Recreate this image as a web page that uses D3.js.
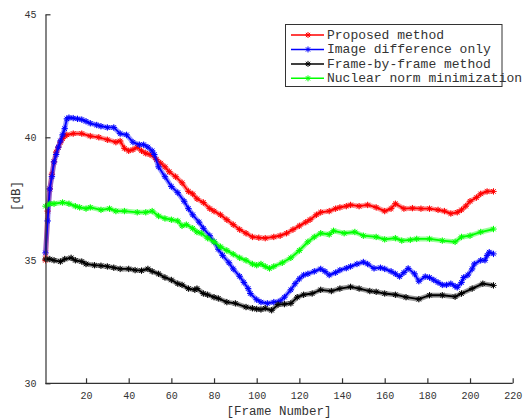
<!DOCTYPE html>
<html><head><meta charset="utf-8">
<script src="https://cdn.jsdelivr.net/npm/d3@7"></script>
<style>
html,body{margin:0;padding:0;background:#fff;}
svg text{font-family:"Courier New","Liberation Mono",monospace;fill:#333;}
</style></head>
<body><svg id="c" width="524" height="418"></svg>
<script>
// ---- data ----
const seriesNames = ["Proposed method","Image difference only","Frame-by-frame method","Nuclear norm minimization"];
const seriesColors = ["#ff0000","#0000ff","#000000","#00ff00"];

const redFrames = [1,2,3,4,5,6,7,8,9,10,11,14,18,22,26,30,34,36,38,40,42,44,46,48,50,53,55,57,59,62,65,68,70,72,75,78,80,83,86,89,92,95,98,101,104,108,111,114,117,120,123,125,128,130,134,137,139,142,144,148,152,156,160,163,165,169,173,177,181,185,188,191,194,196,198,200,203,205,208,211];
const redValues = [35.0,37.0,37.9,38.5,39.0,39.4,39.6,39.8,39.95,40.05,40.1,40.15,40.15,40.05,40.0,39.9,39.8,39.85,39.55,39.45,39.5,39.6,39.45,39.35,39.3,39.1,38.95,38.8,38.6,38.4,38.15,37.8,37.7,37.5,37.35,37.1,37.0,36.85,36.65,36.45,36.25,36.1,35.95,35.92,35.9,35.95,36.0,36.1,36.25,36.4,36.55,36.65,36.85,36.95,37.0,37.1,37.15,37.2,37.25,37.2,37.25,37.15,37.0,37.1,37.3,37.1,37.12,37.1,37.1,37.05,37.0,36.9,36.95,37.05,37.2,37.4,37.55,37.7,37.8,37.8];

const blueFrames = [1,2,3,4,5,6,7,8,9,10,11,12,14,16,18,20,22,25,27,30,33,36,39,42,45,47,49,51,52,54,57,60,63,66,68,70,73,75,78,80,82,84,87,89,92,94,96,97,100,102,105,108,111,113,116,118,120,122,124,127,130,132,134,137,139,142,144,147,150,152,155,158,160,163,165,167,169,171,174,176,179,181,183,185,187,189,191,193,194,196,197,199,201,202,205,207,208,209,211];
const blueValues = [35.3,36.6,37.9,38.4,39.0,39.3,39.6,39.85,40.1,40.35,40.75,40.8,40.78,40.75,40.72,40.65,40.57,40.5,40.45,40.4,40.4,40.15,40.1,39.8,39.7,39.7,39.6,39.45,39.3,38.8,38.4,38.0,37.75,37.4,37.1,36.85,36.55,36.3,36.0,35.75,35.45,35.2,34.9,34.65,34.35,34.1,33.85,33.65,33.4,33.3,33.25,33.3,33.35,33.5,33.8,34.05,34.25,34.4,34.45,34.55,34.65,34.55,34.4,34.5,34.6,34.68,34.75,34.85,34.93,34.85,34.67,34.7,34.65,34.55,34.45,34.34,34.5,34.67,34.45,34.15,34.34,34.3,34.2,34.1,34.0,34.0,34.05,33.95,33.9,34.1,34.3,34.4,34.65,34.85,35.0,35.0,35.2,35.33,35.26];

const blackFrames = [1,3,5,8,10,13,15,18,20,24,27,30,33,36,40,43,46,49,51,54,57,60,63,65,68,71,72,75,77,80,82,86,90,95,98,100,102,104,107,110,113,116,119,122,126,130,135,139,144,148,153,156,160,165,170,176,181,187,193,196,201,206,211];
const blackValues = [35.05,35.05,35.0,34.95,35.05,35.1,35.0,34.95,34.85,34.8,34.78,34.75,34.7,34.65,34.65,34.6,34.58,34.65,34.55,34.45,34.3,34.2,34.05,34.0,33.85,33.8,33.85,33.65,33.6,33.5,33.45,33.3,33.25,33.1,33.05,33.02,33.0,33.05,32.97,33.2,33.22,33.25,33.5,33.6,33.65,33.8,33.75,33.85,33.92,33.85,33.75,33.72,33.65,33.6,33.5,33.42,33.58,33.58,33.52,33.65,33.85,34.05,33.98];

const greenFrames = [1,3,5,9,12,15,17,20,22,27,31,34,38,44,48,51,54,57,60,63,65,67,70,72,74,77,80,83,86,89,92,95,98,100,102,104,106,108,112,116,120,124,127,130,134,136,141,146,150,156,160,165,168,172,175,181,187,193,196,200,205,211];
const greenValues = [37.2,37.3,37.3,37.35,37.3,37.2,37.15,37.1,37.15,37.05,37.1,37.0,37.0,36.95,36.95,37.0,36.8,36.7,36.65,36.6,36.4,36.45,36.3,36.15,36.1,35.9,35.75,35.55,35.4,35.25,35.1,35.0,34.85,34.8,34.85,34.75,34.67,34.75,34.9,35.1,35.4,35.75,35.95,36.1,36.05,36.2,36.1,36.15,36.0,35.95,35.85,35.9,35.8,35.83,35.87,35.87,35.8,35.75,35.95,36.0,36.15,36.27];

const xTicks = [20,40,60,80,100,120,140,160,180,200,220];
const yTicks = [30,35,40,45];
const xTitle = "[Frame Number]";
const yTitle = "[dB]";

// ---- chart ----
const svg = d3.select("#c");
const x = d3.scaleLinear().domain([1,220]).range([45.5,512.7]);
const y = d3.scaleLinear().domain([30,45]).range([383.3,14.3]);
const axisColor = "#333";

const series = [
  {frames:redFrames, values:redValues},
  {frames:blueFrames, values:blueValues},
  {frames:blackFrames, values:blackValues},
  {frames:greenFrames, values:greenValues}
].map((s,i)=>({name:seriesNames[i], color:seriesColors[i], pts:s.frames.map((f,j)=>[f,s.values[j]])}));

function starPath(r){
  const a = r*0.7071;
  return `M${-r},0H${r}M0,${-r}V${r}M${-a},${-a}L${a},${a}M${-a},${a}L${a},${-a}`;
}
const line = d3.line().x(d=>x(d[0])).y(d=>y(d[1]));

series.forEach(s=>{
  const g = svg.append("g");
  g.append("path").attr("d",line(s.pts)).attr("fill","none")
    .attr("stroke",s.color).attr("stroke-width",5).attr("stroke-opacity",0.4).attr("stroke-linejoin","round");
  g.append("path").attr("d",line(s.pts)).attr("fill","none")
    .attr("stroke",s.color).attr("stroke-width",1.8).attr("stroke-linejoin","round");
  g.selectAll("path.m").data(s.pts).join("path").attr("class","m")
    .attr("transform",d=>`translate(${x(d[0])},${y(d[1])})`)
    .attr("d",starPath(3.2)).attr("fill","none").attr("stroke",s.color).attr("stroke-width",1);
});

// axes
const xAxis = d3.axisBottom(x).tickValues(xTicks).tickSize(-5).tickPadding(8.6).tickSizeOuter(0);
const gx = svg.append("g").attr("transform",`translate(0,${y(30)})`).call(xAxis);
gx.select(".domain").attr("d",`M${x(1)},0H${x(220)}`);
const yAxis = d3.axisLeft(y).tickValues(yTicks).tickSize(-5).tickPadding(9).tickSizeOuter(0);
const gy = svg.append("g").attr("transform",`translate(${x(1)},0)`).call(yAxis);
[gx,gy].forEach(g=>{
  g.selectAll(".domain").attr("stroke",axisColor).attr("stroke-width",1.2);
  g.selectAll(".tick line").attr("stroke",axisColor).attr("stroke-width",1.2);
  g.selectAll(".tick text").attr("fill",axisColor).style("font-size","10px").style("font-family",'"Courier New","Liberation Mono",monospace');
});

svg.append("text").attr("x",(x(1)+x(220))/2).attr("y",414.5).attr("text-anchor","middle")
  .style("font-size","12.5px").text(xTitle);
svg.append("text").attr("transform","translate(19.5,196) rotate(-90)").attr("text-anchor","middle")
  .style("font-size","12.5px").text(yTitle);

// legend
const lg = svg.append("g");
lg.append("rect").attr("x",285.5).attr("y",24.5).attr("width",216.5).attr("height",62)
  .attr("fill","#fff").attr("stroke","#333").attr("stroke-width",1);
series.forEach((s,i)=>{
  const cy = 35 + i*14.45;
  lg.append("line").attr("x1",291).attr("x2",324).attr("y1",cy).attr("y2",cy)
    .attr("stroke",s.color).attr("stroke-width",1.5);
  lg.append("path").attr("transform",`translate(308,${cy})`).attr("d",starPath(3))
    .attr("fill","none").attr("stroke",s.color).attr("stroke-width",1);
  lg.append("text").attr("x",327).attr("y",cy+4).style("font-size","13px").attr("fill","#222").text(s.name);
});
</script>
</body></html>
